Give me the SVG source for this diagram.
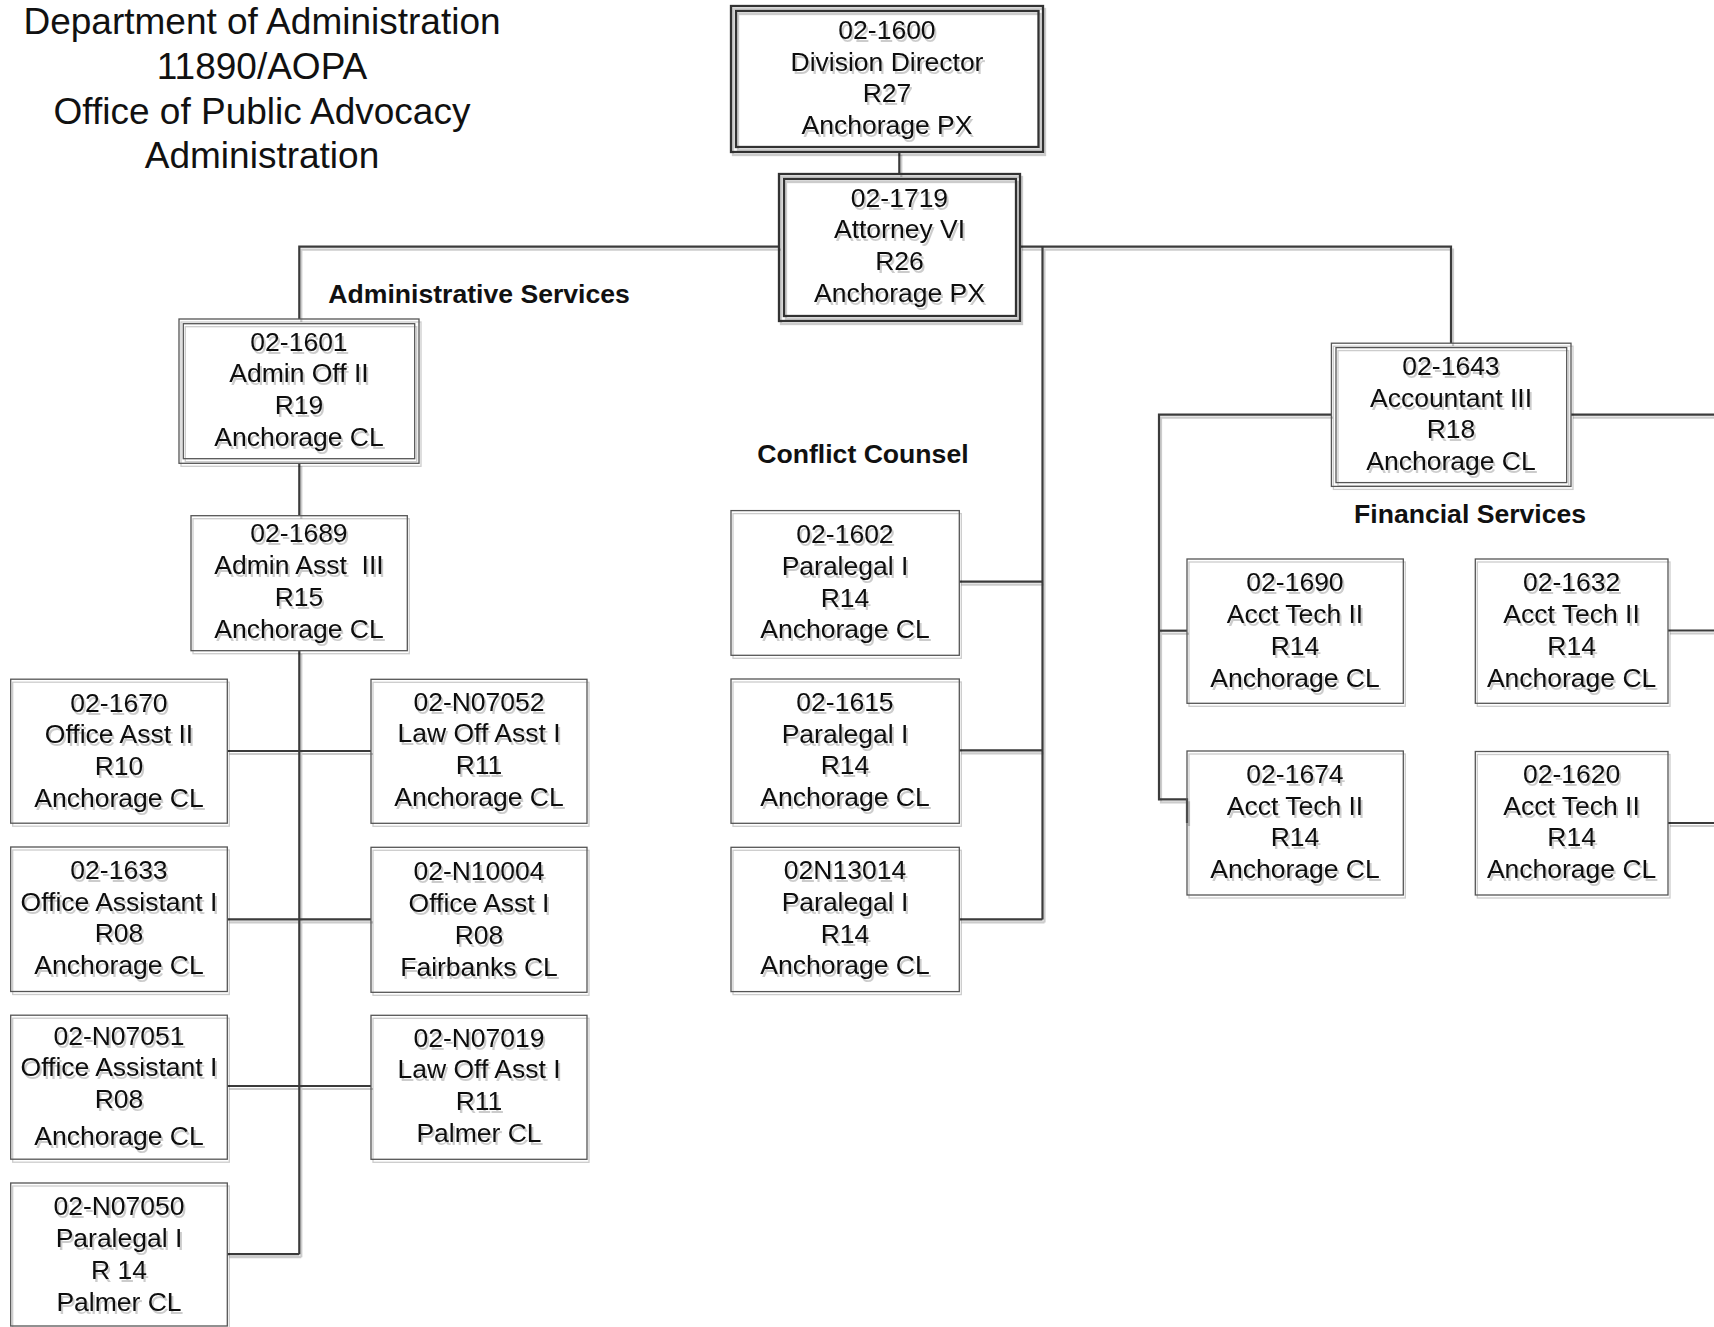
<svg xmlns="http://www.w3.org/2000/svg" width="1714" height="1327" viewBox="0 0 1714 1327">
<defs>
<filter id="sh" filterUnits="userSpaceOnUse" x="0" y="0" width="1714" height="1327">
<feOffset in="SourceAlpha" dx="2" dy="3" result="o"/>
<feFlood flood-color="#000" flood-opacity="0.2"/>
<feComposite in2="o" operator="in"/>
<feMerge><feMergeNode/><feMergeNode in="SourceGraphic"/></feMerge>
</filter>
<style>
text{font-family:"Liberation Sans",Arial,sans-serif;fill:#111}
.t{font-size:26.5px;text-anchor:middle}
.title{font-size:37px;text-anchor:middle}
.lbl{font-size:26.6px;font-weight:bold}
.box{fill:none;stroke:#555;stroke-width:1.3}
.bb{fill:none;stroke:#333;stroke-width:2.3}
.c{fill:none;stroke:#3a3a3a;stroke-width:2.2}
.n{filter:url(#sh)}
</style>
</defs>
<rect width="1714" height="1327" fill="#fff"/>

<g id="title">
<text class="title" x="262" y="34">Department of Administration</text>
<text class="title" x="262" y="79">11890/AOPA</text>
<text class="title" x="262" y="123.5">Office of Public Advocacy</text>
<text class="title" x="262" y="168">Administration</text>
</g>

<g id="labels">
<text class="lbl" x="328.3" y="302.7">Administrative Services</text>
<text class="lbl" x="757.3" y="463.3">Conflict Counsel</text>
<text class="lbl" x="1354" y="522.7">Financial Services</text>
</g>

<g id="connectors" filter="url(#sh)">
<path class="c" d="M899.3,151.7V174"/>
<path class="c" d="M779,246.7H299.3V319"/>
<path class="c" d="M1020,246.7H1451V343"/>
<path class="c" d="M1042.5,246.7V919.4"/>
<path class="c" d="M959.3,581.7H1042.5M959.3,750.4H1042.5M959.3,919.4H1042.5"/>
<path class="c" d="M299.3,463.3V515.7M299.3,650.7V1254.2"/>
<path class="c" d="M227.3,751H371M227.3,919.3H371M227.3,1086H371M227.3,1254.2H299.3"/>
<path class="c" d="M1331,414.7H1159V799.3H1187V823"/>
<path class="c" d="M1159,630.7H1187"/>
<path class="c" d="M1571,414.7H1714M1668,630.5H1714M1668,823H1714"/>
</g>

<g id="n1600" class="n">
<rect class="bb" x="731" y="6" width="312" height="146"/>
<rect class="bb" x="736" y="11" width="302.5" height="136"/>
<text class="t" x="887" y="39.3">02-1600</text>
<text class="t" x="887" y="70.7">Division Director</text>
<text class="t" x="887" y="102.3">R27</text>
<text class="t" x="887" y="133.5">Anchorage PX</text>
</g>

<g id="n1719" class="n">
<rect class="bb" x="779" y="174" width="241" height="147"/>
<rect class="bb" x="784" y="179" width="232" height="137"/>
<text class="t" x="899.5" y="206.7">02-1719</text>
<text class="t" x="899.5" y="238.3">Attorney VI</text>
<text class="t" x="899.5" y="270">R26</text>
<text class="t" x="899.5" y="301.7">Anchorage PX</text>
</g>

<g id="n1601" class="n">
<rect class="box" x="179" y="319" width="240" height="144.3"/>
<rect class="box" x="183.3" y="323.7" width="231.4" height="135"/>
<text class="t" x="299" y="350.5">02-1601</text>
<text class="t" x="299" y="382">Admin Off II</text>
<text class="t" x="299" y="414">R19</text>
<text class="t" x="299" y="446">Anchorage CL</text>
</g>

<g id="n1689" class="n">
<rect class="box" x="191" y="515.7" width="216.3" height="135"/>
<text class="t" x="299" y="541.7">02-1689</text>
<text class="t" x="299" y="574.3" xml:space="preserve">Admin Asst  III</text>
<text class="t" x="299" y="606">R15</text>
<text class="t" x="299" y="638.3">Anchorage CL</text>
</g>

<g id="n1670" class="n">
<rect class="box" x="10.7" y="679.2" width="216.6" height="144"/>
<text class="t" x="119" y="711.5">02-1670</text>
<text class="t" x="119" y="743">Office Asst II</text>
<text class="t" x="119" y="774.8">R10</text>
<text class="t" x="119" y="806.5">Anchorage CL</text>
</g>

<g id="n1633" class="n">
<rect class="box" x="10.7" y="847" width="216.6" height="144.5"/>
<text class="t" x="119" y="879">02-1633</text>
<text class="t" x="119" y="910.7">Office Assistant I</text>
<text class="t" x="119" y="942.4">R08</text>
<text class="t" x="119" y="974">Anchorage CL</text>
</g>

<g id="nN07051" class="n">
<rect class="box" x="10.7" y="1015.2" width="216.6" height="144"/>
<text class="t" x="119" y="1045">02-N07051</text>
<text class="t" x="119" y="1076">Office Assistant I</text>
<text class="t" x="119" y="1107.5">R08</text>
<text class="t" x="119" y="1145">Anchorage CL</text>
</g>

<g id="nN07050" class="n">
<rect class="box" x="10.7" y="1183" width="216.6" height="143"/>
<text class="t" x="119" y="1215">02-N07050</text>
<text class="t" x="119" y="1247">Paralegal I</text>
<text class="t" x="119" y="1279">R 14</text>
<text class="t" x="119" y="1310.8">Palmer CL</text>
</g>

<g id="nN07052" class="n">
<rect class="box" x="371" y="679.3" width="216" height="144"/>
<text class="t" x="479" y="710.7">02-N07052</text>
<text class="t" x="479" y="742.3">Law Off Asst I</text>
<text class="t" x="479" y="774.3">R11</text>
<text class="t" x="479" y="806">Anchorage CL</text>
</g>

<g id="nN10004" class="n">
<rect class="box" x="371" y="847.3" width="216" height="145"/>
<text class="t" x="479" y="880">02-N10004</text>
<text class="t" x="479" y="912.3">Office Asst I</text>
<text class="t" x="479" y="944.3">R08</text>
<text class="t" x="479" y="976">Fairbanks CL</text>
</g>

<g id="nN07019" class="n">
<rect class="box" x="371" y="1015.3" width="216" height="144"/>
<text class="t" x="479" y="1046.7">02-N07019</text>
<text class="t" x="479" y="1078.3">Law Off Asst I</text>
<text class="t" x="479" y="1110">R11</text>
<text class="t" x="479" y="1141.7">Palmer CL</text>
</g>

<g id="n1602" class="n">
<rect class="box" x="731" y="510.6" width="228.3" height="144.7"/>
<text class="t" x="845" y="543.2">02-1602</text>
<text class="t" x="845" y="574.6">Paralegal I</text>
<text class="t" x="845" y="606.8">R14</text>
<text class="t" x="845" y="638.3">Anchorage CL</text>
</g>

<g id="n1615" class="n">
<rect class="box" x="731" y="679" width="228.3" height="144.3"/>
<text class="t" x="845" y="711">02-1615</text>
<text class="t" x="845" y="742.7">Paralegal I</text>
<text class="t" x="845" y="774.4">R14</text>
<text class="t" x="845" y="806">Anchorage CL</text>
</g>

<g id="n13014" class="n">
<rect class="box" x="731" y="847.3" width="228.3" height="144.3"/>
<text class="t" x="845" y="879">02N13014</text>
<text class="t" x="845" y="911">Paralegal I</text>
<text class="t" x="845" y="942.7">R14</text>
<text class="t" x="845" y="974.4">Anchorage CL</text>
</g>

<g id="n1643" class="n">
<rect class="box" x="1331.4" y="343.2" width="239.6" height="143.2"/>
<rect class="box" x="1336" y="347.6" width="230.7" height="135"/>
<text class="t" x="1451" y="375">02-1643</text>
<text class="t" x="1451" y="406.7">Accountant III</text>
<text class="t" x="1451" y="438.3">R18</text>
<text class="t" x="1451" y="470">Anchorage CL</text>
</g>

<g id="n1690" class="n">
<rect class="box" x="1187" y="559" width="216.3" height="144.3"/>
<text class="t" x="1295" y="590.7">02-1690</text>
<text class="t" x="1295" y="622.7">Acct Tech II</text>
<text class="t" x="1295" y="655">R14</text>
<text class="t" x="1295" y="686.7">Anchorage CL</text>
</g>

<g id="n1632" class="n">
<rect class="box" x="1475.3" y="559" width="192.7" height="144.3"/>
<text class="t" x="1571.6" y="590.7">02-1632</text>
<text class="t" x="1571.6" y="622.7">Acct Tech II</text>
<text class="t" x="1571.6" y="655">R14</text>
<text class="t" x="1571.6" y="686.7">Anchorage CL</text>
</g>

<g id="n1674" class="n">
<rect class="box" x="1187" y="751" width="216.3" height="144"/>
<text class="t" x="1295" y="783">02-1674</text>
<text class="t" x="1295" y="814.7">Acct Tech II</text>
<text class="t" x="1295" y="846.4">R14</text>
<text class="t" x="1295" y="878">Anchorage CL</text>
</g>

<g id="n1620" class="n">
<rect class="box" x="1475.3" y="751.5" width="192.7" height="143.5"/>
<text class="t" x="1571.6" y="783">02-1620</text>
<text class="t" x="1571.6" y="814.7">Acct Tech II</text>
<text class="t" x="1571.6" y="846.4">R14</text>
<text class="t" x="1571.6" y="878">Anchorage CL</text>
</g>
</svg>
